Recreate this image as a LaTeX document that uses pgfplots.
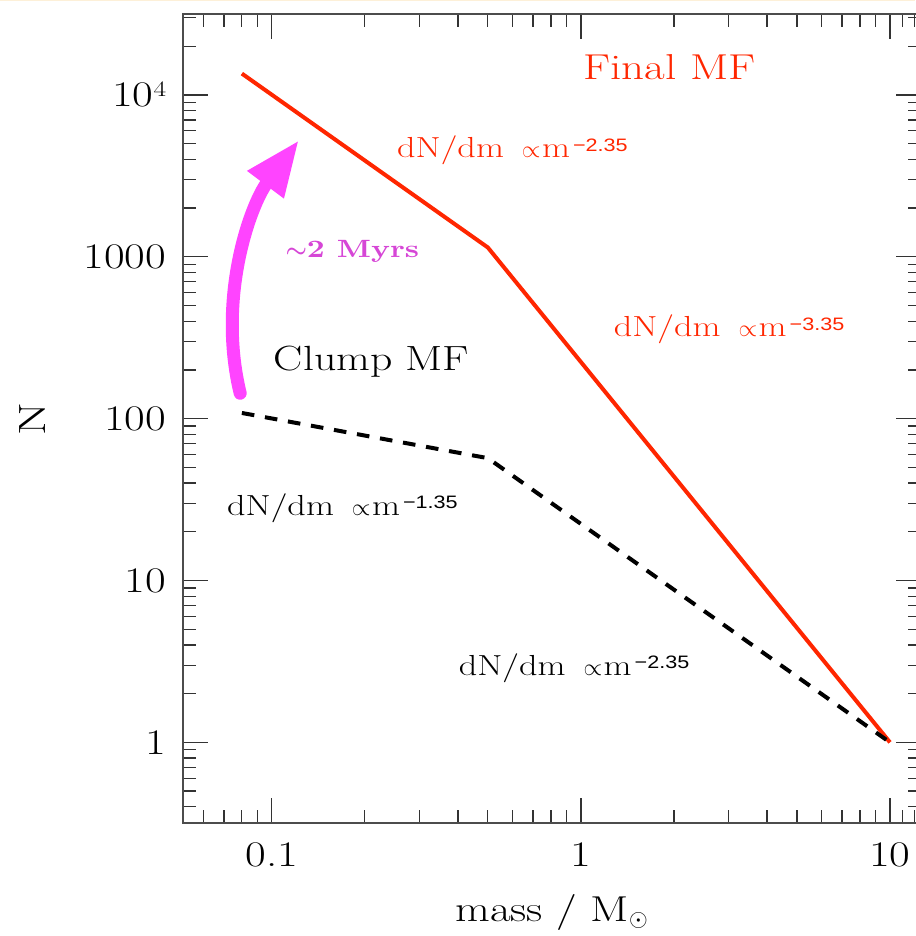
\documentclass[border=0pt]{standalone}
\usepackage{fontspec}
\setmainfont{lmroman17-regular.otf}[BoldFont=lmroman10-bold.otf, FakeStretch=1.25]
\newfontfamily\supfont{Liberation Sans}[FakeStretch=1.2]
\usepackage{pgfplots}
\pgfplotsset{compat=1.18}
\usetikzlibrary{arrows.meta}

\definecolor{mfred}{RGB}{255,38,0}
\definecolor{arrowpink}{RGB}{255,68,255}
\definecolor{agepink}{RGB}{214,70,214}
\definecolor{rimcream}{RGB}{253,240,216}

% power-law label: dN/dm \propto m^{-#1}
\newcommand{\slope}[1]{dN/dm\hspace{0.62em}{\fontsize{12}{12}\selectfont$\propto$}\hspace{0.05em}m\raisebox{3.3pt}{\supfont\fontsize{9}{10}\selectfont\,−#1}}

\begin{document}
\begin{tikzpicture}
\useasboundingbox (-91.65pt,-56.35pt) rectangle (365.85pt,411.65pt);
\fill[rimcream] (-91.65pt,411.05pt) rectangle (365.85pt,411.65pt);
\begin{axis}[
  at={(0,0)}, anchor=south west,
  scale only axis, width=368.85pt, height=404.65pt,
  xmode=log, ymode=log,
  xmin=0.0517, xmax=12.6, ymin=0.3162, ymax=31623,
  xtick={0.1,1,10}, xticklabels={0.1,1,10},
  ytick={1,10,100,1000,10000},
  yticklabels={1,10,100,1000,10\raisebox{5pt}{\fontsize{11}{11}\selectfont 4}},
  minor xtick={0.06,0.07,0.08,0.09,0.2,0.3,0.4,0.5,0.6,0.7,0.8,0.9,2,3,4,5,6,7,8,9,11,12},
  minor ytick={0.4,0.5,0.6,0.7,0.8,0.9,2,3,4,5,6,7,8,9,20,30,40,50,60,70,80,90,200,300,400,500,600,700,800,900,2000,3000,4000,5000,6000,7000,8000,9000,20000,30000},
  tick align=inside, tick pos=both,
  major tick length=12.5pt, minor tick length=6.5pt,
  tick style={black!80, line width=0.6pt},
  axis line style={black!70, line width=0.9pt},
  ticklabel style={font=\fontsize{18}{20}\selectfont},
  xticklabel style={yshift=-6pt},
  yticklabel style={xshift=-5pt},
  xlabel={mass / M$_\odot$},
  xlabel style={font=\fontsize{18}{20}\selectfont, at={(axis description cs:0.5,-0.1216)}, anchor=base},
  ylabel={N},
  ylabel style={font=\fontsize{19}{20}\selectfont, at={(axis description cs:-0.2044,0.5)}, anchor=center},
  clip=false,
]
% final mass function
\addplot[mfred, line width=2pt, line join=miter] coordinates {(0.08,13545) (0.5,1141) (10,1)};
% clump mass function
\addplot[black, line width=2pt, dash pattern=on 6.3pt off 5.4pt] coordinates {(0.08,108.4) (0.5,57.0) (10,1)};

\draw[arrowpink, line width=6.5pt, line cap=round, -{Triangle[width=21pt,length=28pt]}]
  (axis cs:0.0790,143.5) .. controls (axis cs:0.0665,560) and (axis cs:0.0851,2087) .. (axis cs:0.1225,5268);

\node[anchor=base west, inner sep=0pt, text=mfred, font=\fontsize{18}{20}\selectfont] at (axis cs:1.016,12380) {Final MF};
\node[anchor=base west, inner sep=0pt, text=mfred, font=\fontsize{14.5}{16}\selectfont] at (axis cs:0.2537,4077) {\slope{2.35}};
\node[anchor=base west, inner sep=0pt, text=mfred, font=\fontsize{14.5}{16}\selectfont] at (axis cs:1.274,320) {\slope{3.35}};
\node[anchor=base west, inner sep=0pt, font=\fontsize{17.5}{20}\selectfont] at (axis cs:0.1012,199) {Clump MF};
\node[anchor=base west, inner sep=0pt, text=agepink, font=\bfseries\fontsize{12.5}{13}\selectfont] at (axis cs:0.1104,991.6) {{\boldmath$\sim$}2 Myrs};
\node[anchor=base west, inner sep=0pt, font=\fontsize{14.5}{16}\selectfont] at (axis cs:0.0715,25.3) {\slope{1.35}};
\node[anchor=base west, inner sep=0pt, font=\fontsize{14.5}{16}\selectfont] at (axis cs:0.4015,2.589) {\slope{2.35}};
\end{axis}
\end{tikzpicture}
\end{document}
